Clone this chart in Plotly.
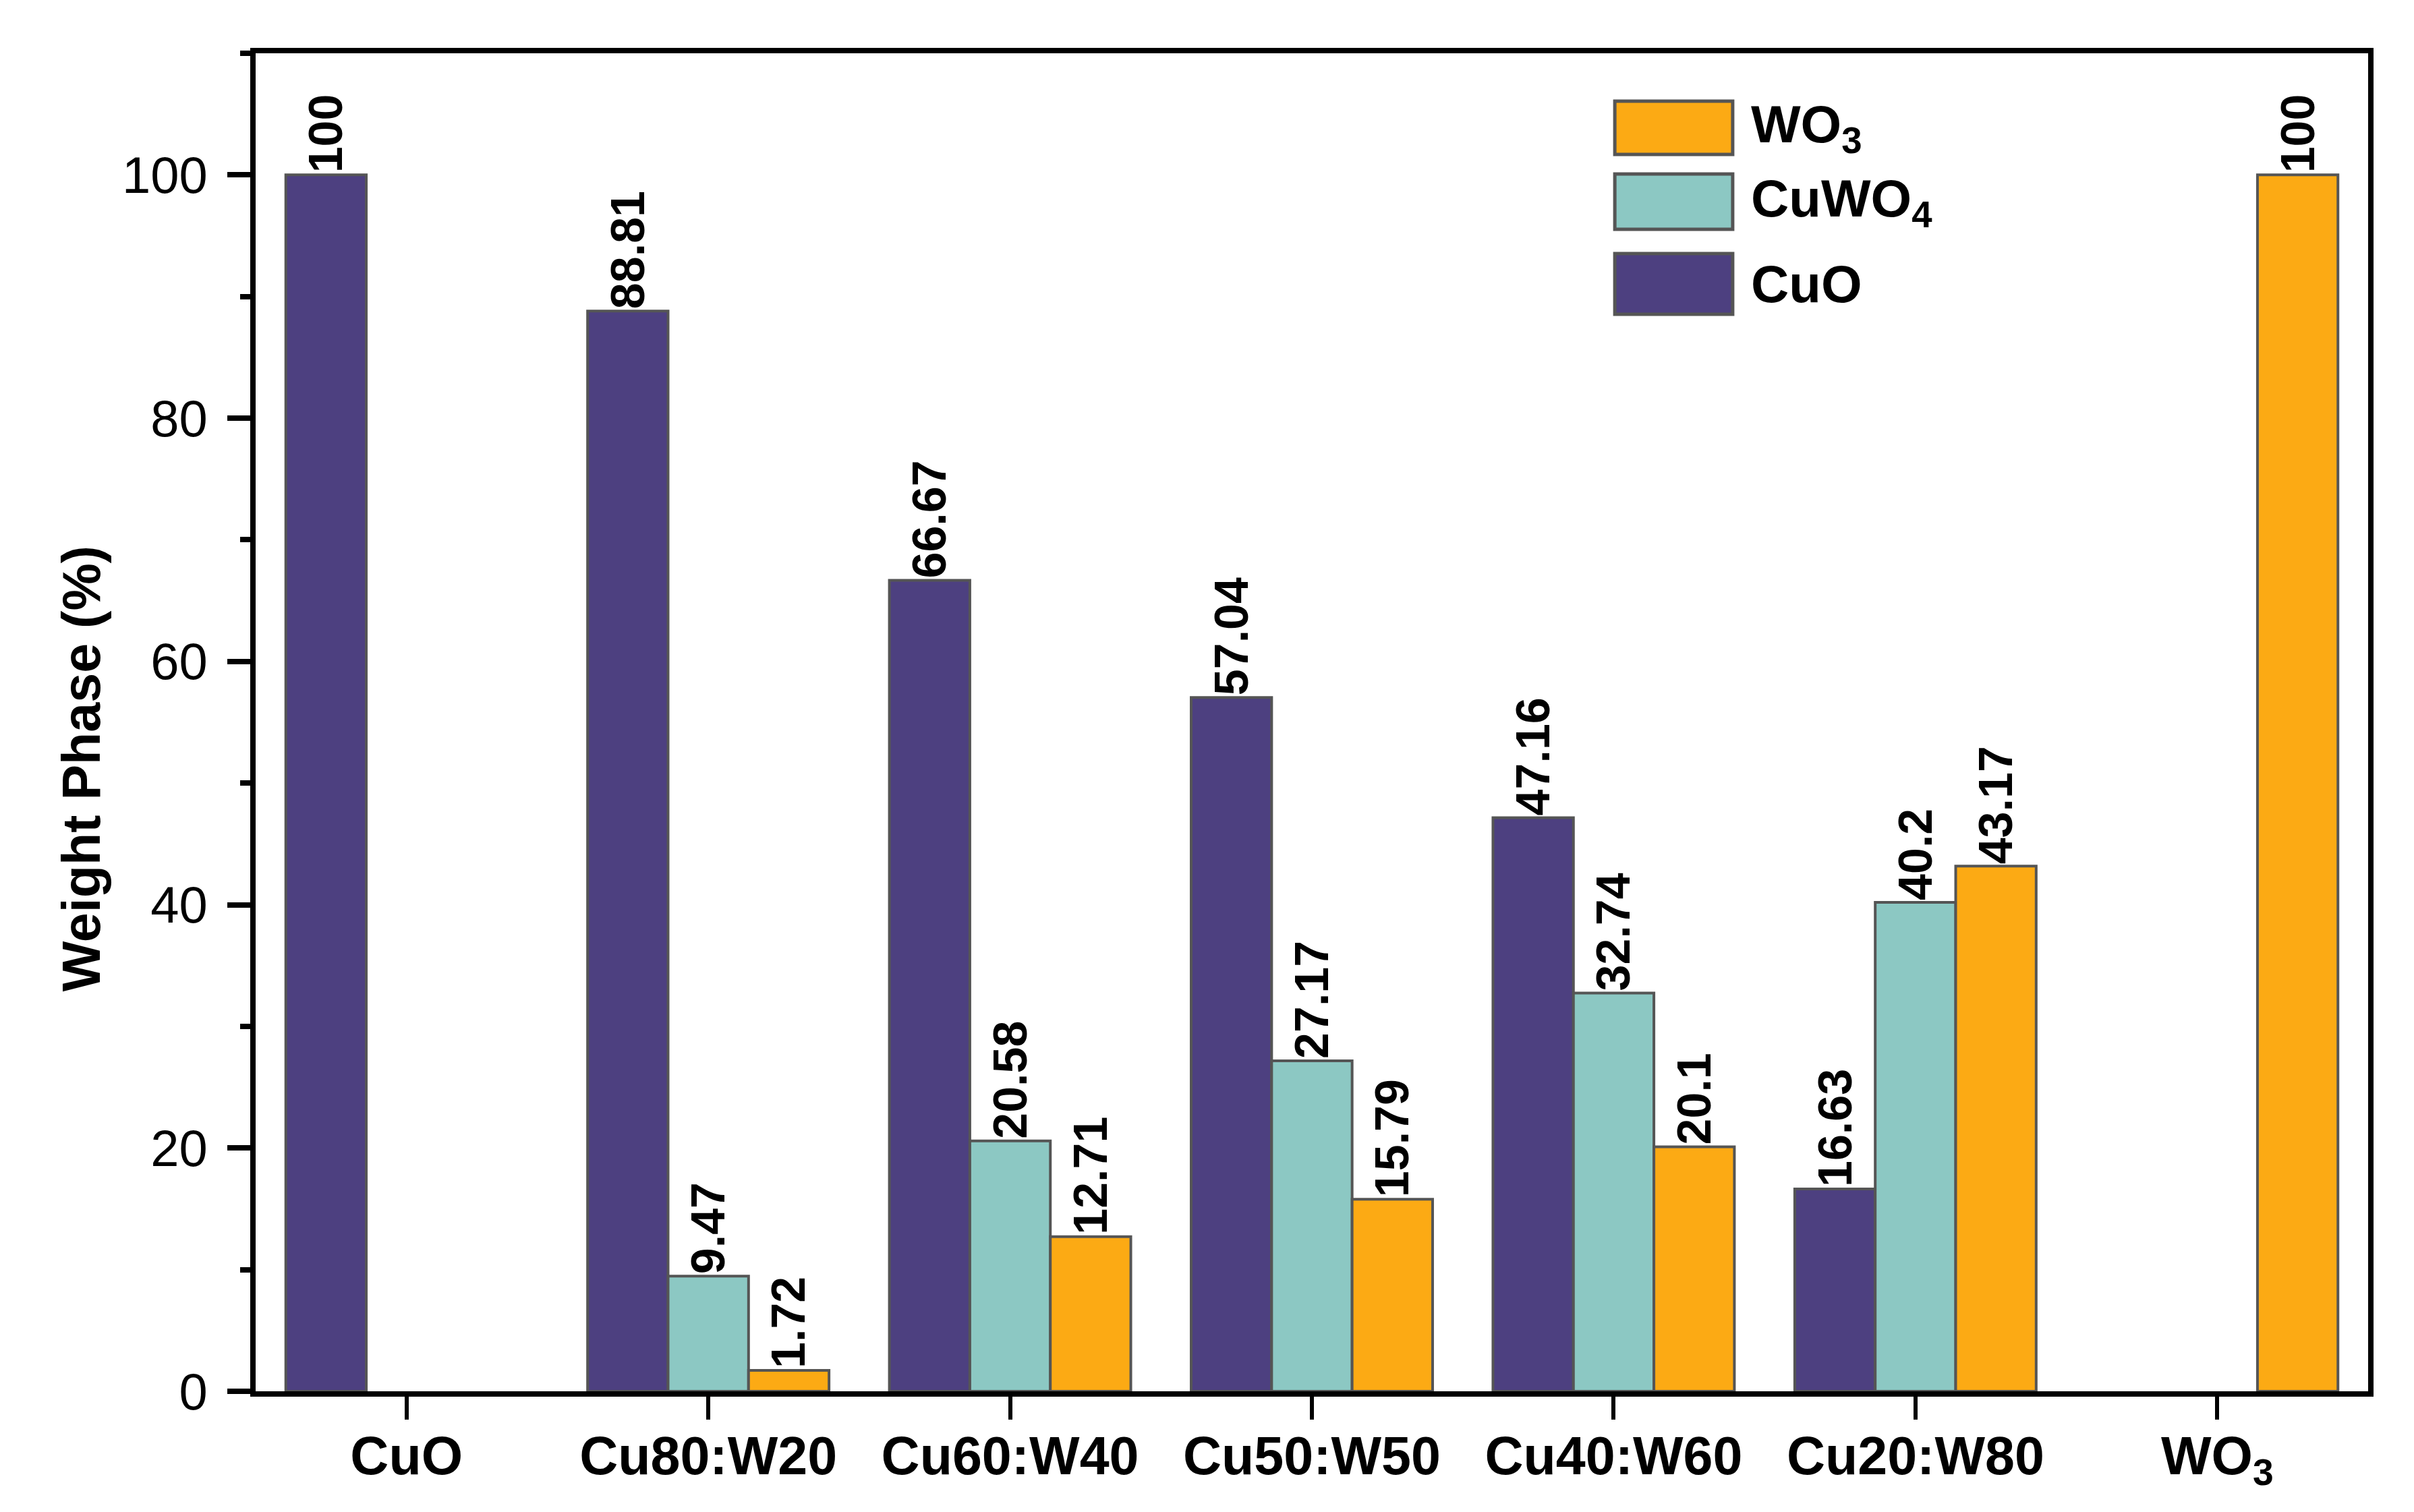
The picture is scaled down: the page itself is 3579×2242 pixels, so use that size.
import plotly.graph_objects as go

# данные
samples = ["CuO", "Cu80:W20", "Cu60:W40", "Cu50:W50", "Cu40:W60", "Cu20:W80", "WO<sub>3</sub>"]
cuo = [100, 88.81, 66.67, 57.04, 47.16, 16.63, None]
cuwo4 = [None, 9.47, 20.58, 27.17, 32.74, 40.2, None]
wo3 = [None, 1.72, 12.71, 15.79, 20.1, 43.17, 100]

phase_names = ["CuO", "CuWO<sub>4</sub>", "WO<sub>3</sub>"]
phase_colors = ["#4D4080", "#8CC8C3", "#FCAA14"]

FONT = "Liberation Sans, Arial, sans-serif"

fig = go.Figure()

for name, vals, color in zip(phase_names, [cuo, cuwo4, wo3], phase_colors):
    # пустые фазы не рисуем (места в группе всё равно сохраняются)
    xs = [s for s, v in zip(samples, vals) if v is not None]
    ys = [v for v in vals if v is not None]
    fig.add_trace(go.Bar(
        x=xs, y=ys, name=name,
        marker=dict(color=color, line=dict(color="#555555", width=4)),
        text=[f"{v:g}" for v in ys], textposition="outside", textangle=-90,
        textfont=dict(family=FONT, size=70, color="black", weight="bold"),
        constraintext="none", cliponaxis=False,
        showlegend=False,
    ))

# легенда вручную (большие квадраты)
box_x0, box_x1, text_x = 0.6434, 0.6992, 0.7072
box_rows = [(0.9642, 0.9244), (0.9098, 0.8684), (0.8503, 0.8049)]
legend_order = [2, 1, 0]  # WO3 сверху, потом CuWO4, CuO
for (y1, y0), idx in zip(box_rows, legend_order):
    fig.add_shape(type="rect", xref="paper", yref="paper",
                  x0=box_x0, x1=box_x1, y0=y0, y1=y1,
                  fillcolor=phase_colors[idx], line=dict(color="#555555", width=5))
    fig.add_annotation(xref="paper", yref="paper", x=text_x, y=(y0 + y1) / 2,
                       text=phase_names[idx], showarrow=False,
                       xanchor="left", yanchor="middle",
                       font=dict(family=FONT, size=78, color="black", weight="bold"))

# подпись оси Y (в оригинале смещена ниже центра)
fig.add_annotation(xref="paper", yref="paper", x=-0.0824, y=0.4655,
                   text="Weight Phase (%)", textangle=-90, showarrow=False,
                   xanchor="center", yanchor="middle",
                   font=dict(family=FONT, size=79, color="black", weight="bold"))

fig.update_layout(
    width=3579, height=2242,
    margin=dict(l=371, r=76, t=71, b=187),
    paper_bgcolor="white", plot_bgcolor="white",
    barmode="group", bargap=0.2, bargroupgap=0,
    font=dict(family=FONT, color="black"),
)

fig.update_xaxes(
    categoryorder="array", categoryarray=samples,
    range=[-0.5, 6.5], automargin=False,
    showline=True, linewidth=8, linecolor="black", mirror=True,
    ticks="outside", ticklen=34, tickwidth=6, tickcolor="black",
    tickfont=dict(family=FONT, size=79, color="black", weight="bold"),
    showgrid=False, zeroline=False, ticklabelstandoff=-14,
)

fig.update_yaxes(
    range=[0, 110], automargin=False,
    tickvals=[0, 20, 40, 60, 80, 100],
    showline=True, linewidth=8, linecolor="black", mirror=True,
    ticks="outside", ticklen=34, tickwidth=8, tickcolor="black",
    minor=dict(ticks="outside", ticklen=15, tickwidth=8, tickcolor="black",
               tickvals=[10, 30, 50, 70, 90, 110]),
    tickfont=dict(family=FONT, size=76, color="black"),
    showgrid=False, zeroline=False, ticklabelstandoff=14,
)

fig.write_html("out.html")
